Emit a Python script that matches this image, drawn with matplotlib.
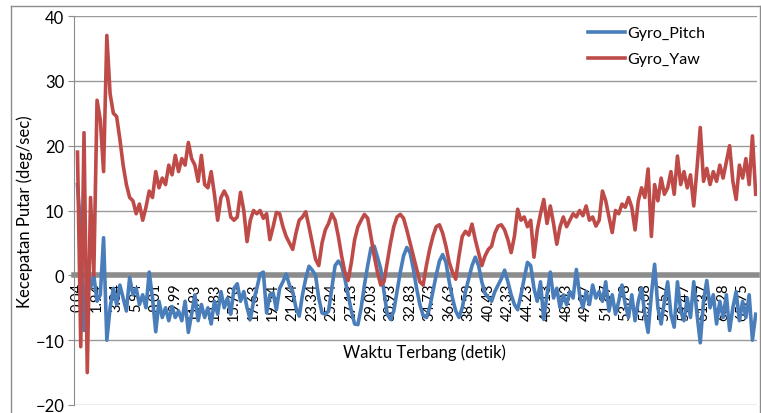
import numpy as np
import matplotlib.pyplot as plt
from matplotlib.lines import Line2D

plt.rcParams['font.family'] = ['Lato', 'DejaVu Sans']

# label waktu (detik) tiap 6 sampel
waktu_label = ['0.04', '1.94', '3.84', '5.94', '8.01', '9.99', '11.93', '13.83',
               '15.73', '17.63', '19.54', '21.44', '23.34', '25.24', '27.13',
               '29.03', '30.93', '32.83', '34.73', '36.63', '38.53', '40.43',
               '42.33', '44.23', '46.13', '48.03', '49.97', '51.87', '53.78',
               '55.68', '57.57', '59.47', '61.37', '63.28', '65.75']
step_label = 6

gyro_pitch = [
    14, 7, -8.5, 1, -2, 0, -4, -3, 5.8, -10,
    -5, -2, -4.5, -1.5, -3.5, -5.5, -0.3, -3, -2, -4.5,
    -3, -5, 0.5, -3.5, -8.7, -4, -6.5, -5, -7, -4.8,
    -6.5, -5.5, -7, -4, -8.8, -6, -3, -7, -4.5, -6.5,
    -5, -7.5, -4, -6, -2.5, -5, -3.5, -6, -2, -1.3,
    -4, -2.5, -5, -6.8, -4, -2, 0.2, 0.5, -5.8, -3,
    -2.7, -5.3, -2, -1, 0.2, -1.5, -2.5, -5, -6.3, -3,
    -0.5, 1.4, 0.8, 0, -3.5, -5.8, -6, -5.5, -2, 1.5,
    2.2, 1.5, -0.5, -3, -5.5, -7.5, -7.6, -5, -1.5, 1.5,
    4.2, 4.5, 2.8, 1, -2.5, -6, -6.8, -5.5, -2.5, 0.5,
    3, 4.3, 3.5, 1, -2, -4.5, -6.2, -6.5, -5, -2.5,
    0, 2.2, 3.2, 2, -1, -3.5, -5.5, -6.5, -5, -2.5,
    -0.5, 1.5, 2.8, 1.5, -1, -2.8, -3.4, -4, -2.5, -1.5,
    -0.5, 0.8, -1, -3, -4.5, -5.3, -3, -0.5, 2, 1.5,
    -2, -4, -1, -6.8, -3, 0.5, -3.5, -2, -5, -3,
    -4.5, -2.5, -3.5, 0.9, -3, -5, -2.5, -4.5, -1.5, -3.5,
    -2.5, -4, -1, -5.5, -3, -6, -4, -1.5, -4.5, -6.5,
    -3, -7, -4, -2, -6, -8.8, -3, 1.7, -5, -7.5,
    -4, -1, -6, -8, -1, -5.5, -7, -3.5, -6.5, -1,
    -6, -10.4, -4, -0.8, -5, -3, -7.5, -4, -6.5, -3,
    -8.5, -5, -2.5, -7, -4, -6.5, -3, -10, -6]

gyro_yaw = [
    19, -11, 22, -15, 12, 0, 27, 24, 16, 37,
    28, 25, 24.5, 21, 17, 14, 12, 11.5, 9.5, 11,
    8.5, 10.5, 13, 12, 16, 13.5, 15, 14, 17, 15.5,
    18.5, 16, 18, 17, 20.5, 18, 17, 14.5, 18.5, 14,
    13.5, 16, 12.5, 8.5, 12, 13, 12, 9, 8.5, 9,
    12.8, 10, 5.2, 8.5, 10, 9.5, 10, 8.8, 9.5, 5.5,
    7.5, 9.7, 9.5, 7.5, 6, 5, 4, 6.5, 8.5, 9,
    9.8, 7.5, 5, 2.5, 1.5, 5, 7, 8, 9.5, 8.5,
    6, 3, 0.5, -0.8, 2, 5.5, 7.5, 8.5, 9.4, 8.8,
    6, 3, 0.5, -1.5, -1, 2, 5, 7.5, 9, 9.4,
    8.8, 7, 5, 3, 1, -1, -1.5, 1.5, 4, 6,
    7.5, 7.8, 6.5, 4.5, 2, 0.5, -0.6, 3, 6, 6.8,
    6.2, 7.9, 5.5, 3.5, 1.5, 3, 4, 4.5, 6.5, 7.6,
    7.8, 7, 5.5, 3.5, 6, 10.2, 8.5, 9, 7.5, 8.5,
    2.8, 7, 9.5, 11.7, 8, 10.7, 8, 4.8, 7.5, 9,
    7.5, 8.5, 9.5, 9, 10, 9.2, 10.7, 8.5, 9, 7.6,
    8.5, 13, 11.5, 9, 6.6, 10, 9.5, 11, 10.5, 12,
    10.5, 7, 11.5, 13.5, 12, 16.4, 6, 14, 11.5, 15,
    12.5, 13.5, 16, 12.5, 18.4, 14, 16, 13.5, 15.5, 10.7,
    16.5, 22.8, 14.5, 16.5, 14, 16, 14.5, 17, 15, 17.5,
    20, 14.5, 11.7, 17, 15, 18, 14, 21.5, 12.5]

W, H = 761, 414
fig = plt.figure(figsize=(W / 100, H / 100), dpi=100)
ax = fig.add_axes([74 / W, (H - 406) / H, (757 - 74) / W, (406 - 17) / H])

idx = np.arange(len(gyro_pitch))
ax.plot(idx, gyro_pitch, color='#4A7EBB', lw=2.6, label='Gyro_Pitch', zorder=3,
        solid_joinstyle='round')
ax.plot(idx, gyro_yaw, color='#BE4B48', lw=2.6, label='Gyro_Yaw', zorder=3,
        solid_joinstyle='round')

ax.set_ylim(-20, 40)
ax.set_xlim(-1.07, 208.4)
ax.set_yticks(np.arange(-20, 41, 10))
for v in np.arange(-20, 41, 10):
    if v != 0:
        ax.axhline(v, color='#9a9a9a', lw=1, zorder=1)

# sumbu kategori memotong di y = 0
ax.spines['bottom'].set_position(('data', 0))
ax.spines['bottom'].set_color('#8c8c8c')
ax.spines['bottom'].set_linewidth(4)
ax.spines['left'].set_color('#8c8c8c')
ax.spines['top'].set_visible(False)
ax.spines['right'].set_visible(False)

ax.set_xticks(np.arange(0, len(waktu_label) * step_label, step_label))
ax.set_xticklabels(waktu_label, rotation=90, fontsize=10.5)
ax.tick_params(axis='x', length=0, pad=5)
ax.tick_params(axis='y', length=4, color='#8c8c8c', labelsize=12, pad=3)

ax.set_ylabel('Kecepatan Putar (deg/sec)', fontsize=12, labelpad=2)
fig.text(424 / W, 1 - 353 / H, 'Waktu Terbang (detik)', fontsize=12,
         ha='center', va='center')

ax.legend(loc='upper left', bbox_to_anchor=(588 / W, 1 - 27 / H),
          bbox_transform=fig.transFigure, frameon=False, fontsize=11.5,
          handlelength=2.3, handletextpad=0.15, labelspacing=0.75,
          borderaxespad=0, borderpad=0)

# bingkai area grafik
for xs, ys in [([11, 11], [0, 407]), ([11, 760], [407, 407]), ([760, 760], [0, 407])]:
    fig.add_artist(Line2D(np.array(xs) / W, np.array(ys) / H,
                          color='#8c8c8c', lw=1, transform=fig.transFigure))

fig.savefig('out.png', dpi=100)
